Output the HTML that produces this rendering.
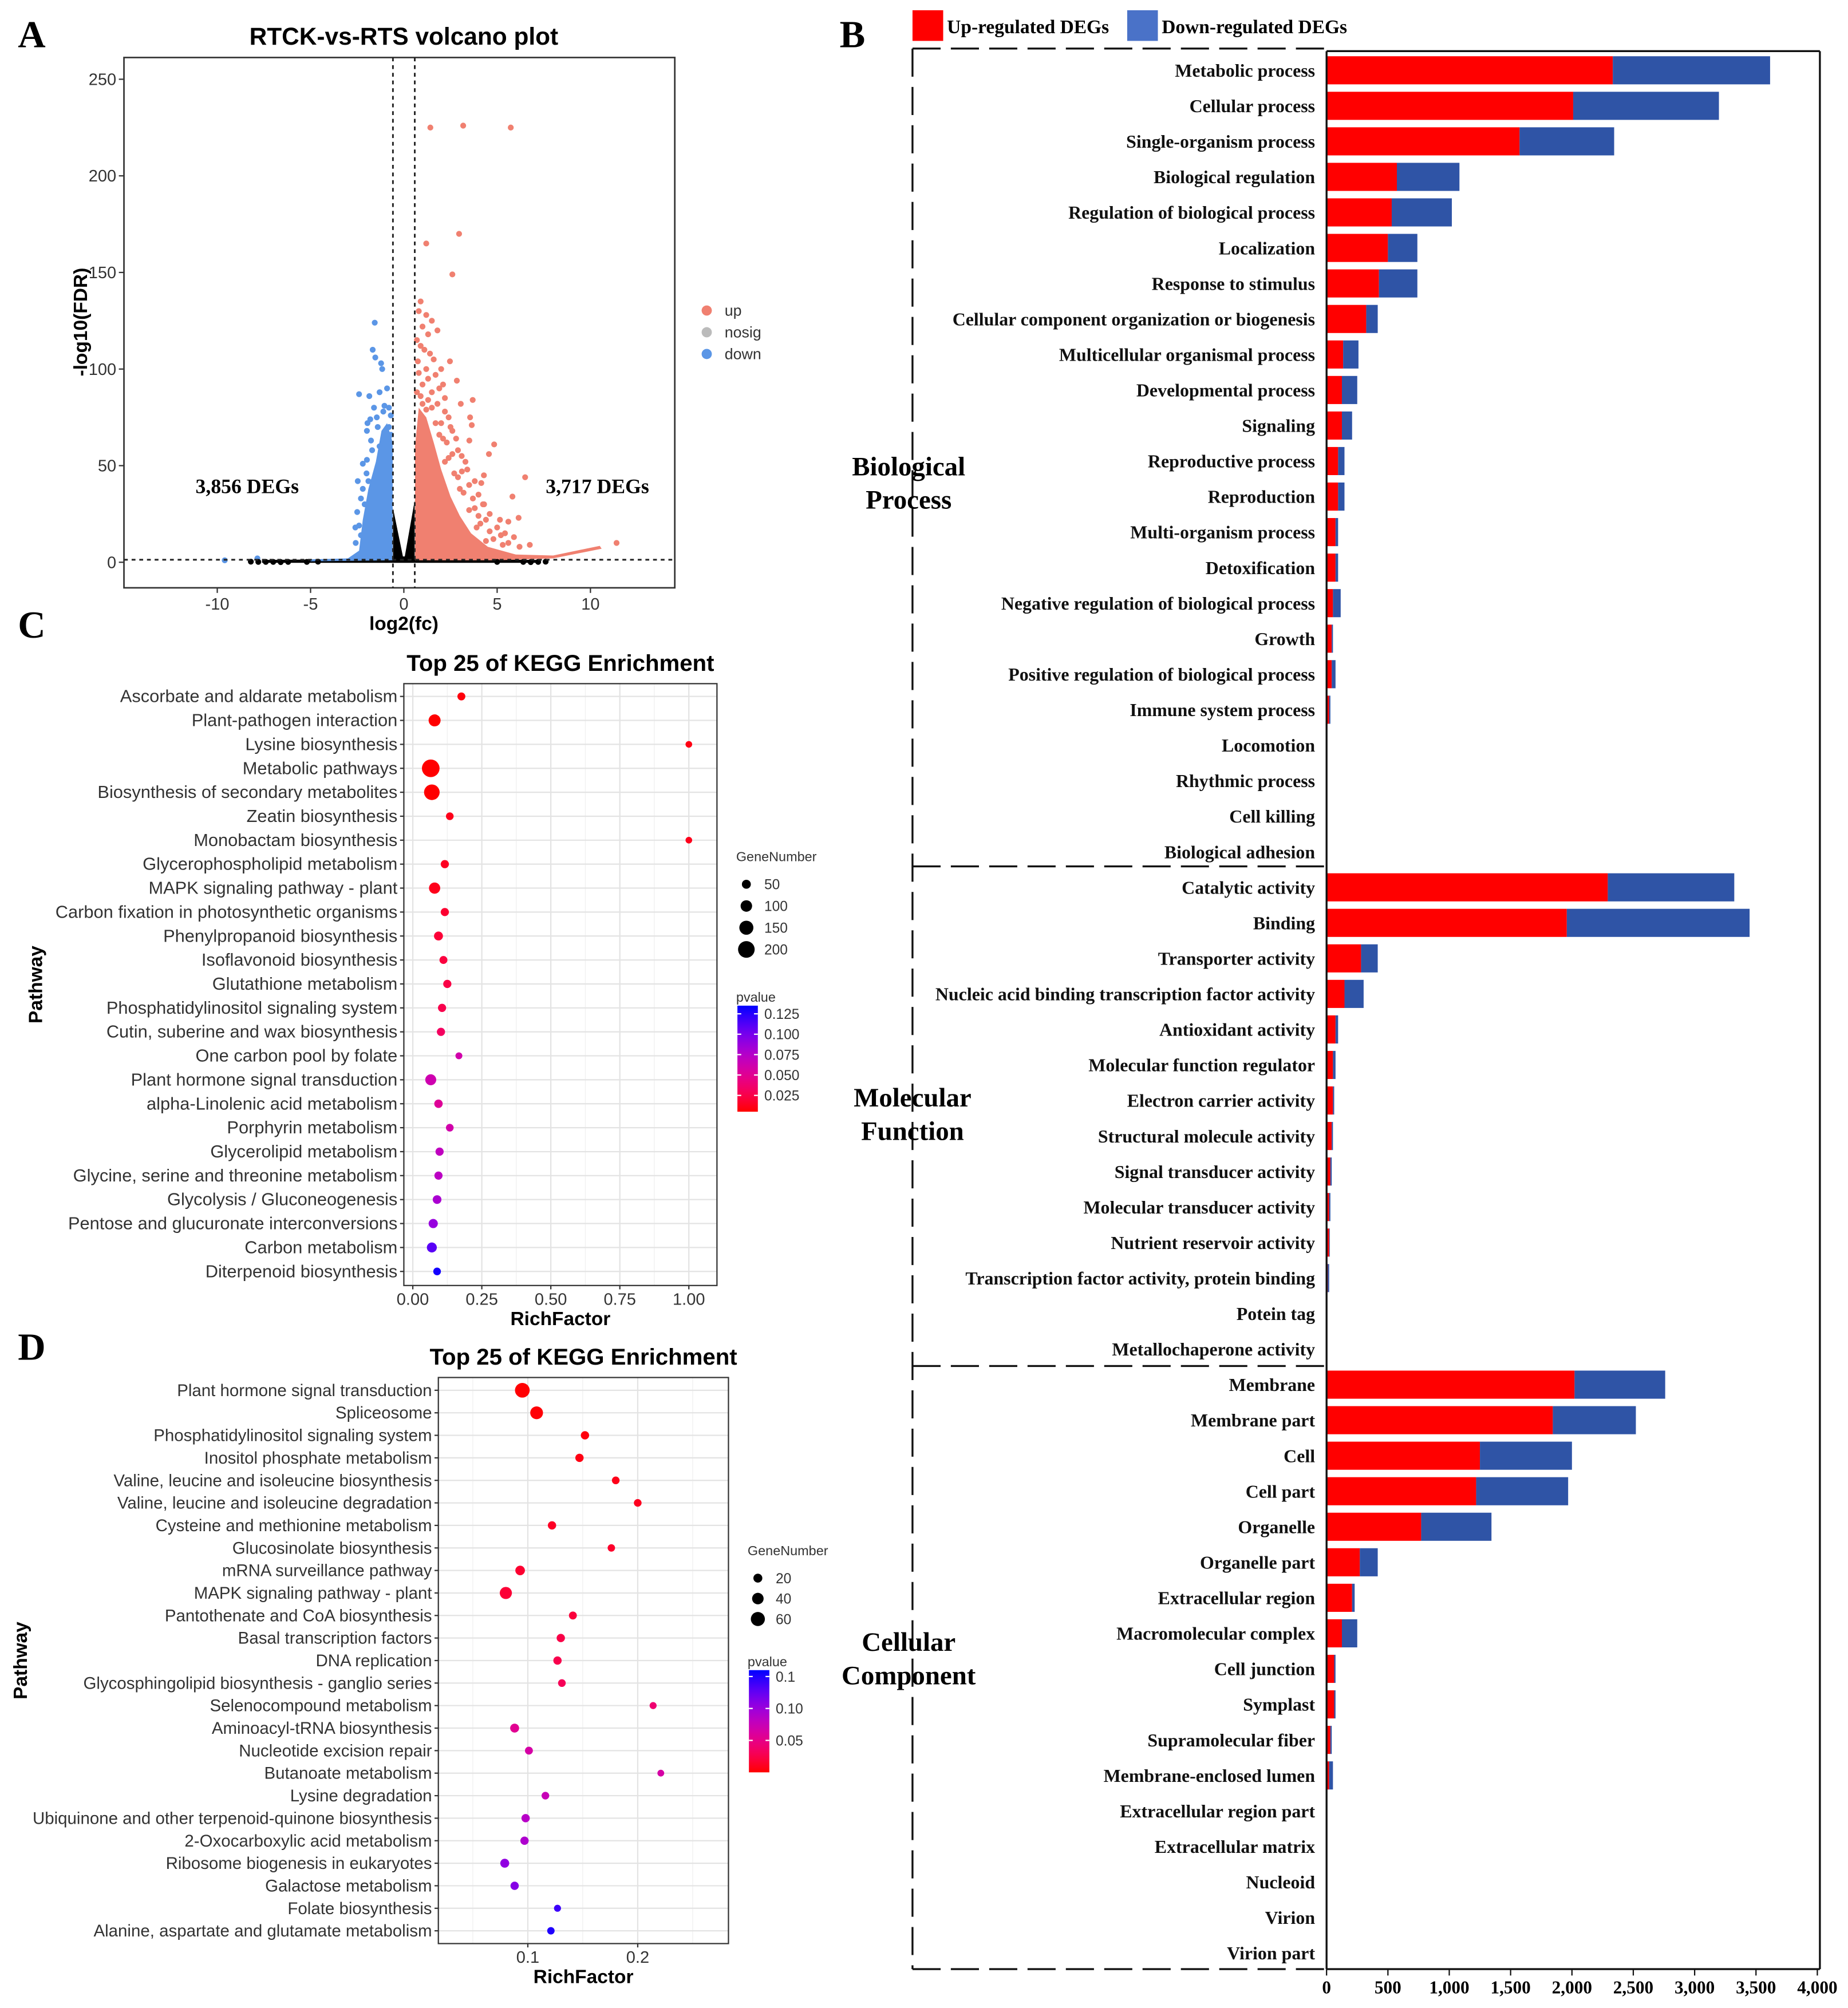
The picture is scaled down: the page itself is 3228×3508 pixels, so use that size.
<!DOCTYPE html>
<html><head><meta charset="utf-8"><style>
html,body{margin:0;padding:0;background:#fff;}
svg{display:block;}
</style></head><body>
<svg id="fig" xmlns="http://www.w3.org/2000/svg" width="3228" height="3508" viewBox="0 0 1446 1571.4">
<rect x="0" y="0" width="1446" height="1571.4" fill="#fff"/>
<g id="gA"></g>
<g id="gB"></g>
<g id="gC"></g>
<g id="gD"></g>
</svg>
<script>
// ---------- Panel A data ----------
const volXTicks = [-10,-5,0,5,10];
const volYTicks = [0,50,100,150,200,250];
const upDense = [[0.6,1],[0.6,60],[0.8,80],[1.2,75],[1.6,62],[2.0,48],[2.5,34],[3.0,24],[3.6,15],[4.5,8],[6,4],[8,3.5],[10.5,8.5],[10.6,7],[8,2],[5,1]];
const downDense = [[-0.6,1],[-0.6,62],[-0.9,72],[-1.2,68],[-1.5,52],[-1.9,38],[-2.2,22],[-2.4,6],[-3,2],[-5,1.5],[-5,0.5]];
const nosigSpike = [[-0.58,0],[-0.58,28],[-0.05,3],[0.05,3],[0.58,32],[0.58,0]];
const nosigBand = [[-7.6,-0.3],[-7.6,1.2],[0,1.8],[7.3,1.2],[7.3,-0.3]];
const upPoints = [[1.42,225],[3.18,226],[5.73,225],[2.96,170],[1.2,165],[2.6,149],[2.47,104],[2.84,94],[3.69,84],[3.05,82],[3.55,75],[3.64,71],[3.51,63],[4.84,61],[4.56,56],[3.11,47],[6.5,44],[4.29,45],[4.15,41],[5.82,34],[4.24,30],[6.15,23],[5.15,22],[5.6,21],[5.42,15],[6.75,9],[11.4,10],
[0.9,135],[1.2,128],[1.5,125],[1.8,120],[0.7,115],[1.1,110],[1.6,105],[2.0,100],[0.8,98],[1.3,95],[1.9,90],[2.2,85],[0.7,88],[1.0,82],[1.5,80],[2.4,75],[1.7,72],[2.6,68],[2.1,64],[2.9,58],[2.4,54],[3.3,52],[2.7,46],[3.5,40],[3.0,38],[4.0,35],[3.8,28],[4.6,25],[4.1,20],[5.0,18],[4.8,12],[5.9,13],[5.3,9],
[0.8,130],[1.0,122],[1.3,118],[0.9,112],[1.4,108],[0.75,104],[1.2,100],[1.7,97],[1.0,92],[1.5,88],[2.1,92],[0.9,86],[1.3,84],[1.8,82],[2.2,78],[1.2,79],[2.0,72],[2.5,70],[1.9,66],[2.3,62],[2.8,64],[2.6,56],[3.1,55],[2.2,52],[3.4,48],[2.9,44],[3.8,42],[3.2,36],[3.7,33],[4.3,30],[3.5,27],[4.0,24],[4.4,22],[3.9,18],[4.6,16],[5.2,14],[4.4,11],[5.6,10],[6.2,8]];
const downPoints = [[-1.56,124],[-1.67,110],[-1.53,106],[-1.22,103],[-1.16,100],[-2.4,87],[-1.85,86],[-1.04,81],[-1.45,75],[-1.95,72],[-1.98,68],[-1.76,63],[-1.98,53],[-2.2,51],[-2.47,42],[-2.3,33],[-2.4,19],[-2.58,10],[-9.6,1],[-7.85,2],[-0.8,70],[-1.3,60],[-0.7,66],
[-0.8,80],[-1.1,78],[-0.9,90],[-1.3,88],[-1.6,80],[-1.8,74],[-0.7,76],[-1.4,70],[-1.7,58],[-2.0,46],[-1.9,42],[-2.2,38],[-2.1,30],[-2.5,26],[-2.3,14],[-2.6,18]];
const nosigPoints = [[-8.2,0.3],[-7.8,0.2],[-7.4,0.2],[-7.0,0.2],[-6.6,0.1],[-6.2,0.2],[-5.2,0.2],[-4.6,0.3],[5.0,0.2],[6.4,0.2],[6.8,0.1],[7.2,0.2],[7.6,0.3]];

// ---------- Panel B data ----------
const goTerms = ["Metabolic process","Cellular process","Single-organism process","Biological regulation","Regulation of biological process","Localization","Response to stimulus","Cellular component organization or biogenesis","Multicellular organismal process","Developmental process","Signaling","Reproductive process","Reproduction","Multi-organism process","Detoxification","Negative regulation of biological process","Growth","Positive regulation of biological process","Immune system process","Locomotion","Rhythmic process","Cell killing","Biological adhesion",
"Catalytic activity","Binding","Transporter activity","Nucleic acid binding transcription factor activity","Antioxidant activity","Molecular function regulator","Electron carrier activity","Structural molecule activity","Signal transducer activity","Molecular transducer activity","Nutrient reservoir activity","Transcription factor activity, protein binding","Potein tag","Metallochaperone activity",
"Membrane","Membrane part","Cell","Cell part","Organelle","Organelle part","Extracellular region","Macromolecular complex","Cell junction","Symplast","Supramolecular fiber","Membrane-enclosed lumen","Extracellular region part","Extracellular matrix","Nucleoid","Virion","Virion part"];
const goUp = [2333,2010,1573,573,531,500,427,323,135,125,125,94,94,73,73,52,42,42,21,2,1,1,1,
2292,1958,281,146,73,52,52,42,31,21,21,10,1,1,
2021,1844,1250,1219,771,271,208,125,62,62,31,21,2,2,1,1,1];
const goDown = [1282,1188,771,510,490,240,313,94,125,125,83,52,52,21,21,63,10,31,10,0,0,0,0,
1031,1490,136,156,21,21,10,10,11,10,5,11,0,0,
739,677,750,750,573,146,21,125,11,11,11,31,0,0,0,0,0];
const goTicks = [0,500,1000,1500,2000,2500,3000,3500,4000];
const goTickLabels = ["0","500","1,000","1,500","2,000","2,500","3,000","3,500","4,000"];

// ---------- Panel C data ----------
const cPath = ["Ascorbate and aldarate metabolism","Plant-pathogen interaction","Lysine biosynthesis","Metabolic pathways","Biosynthesis of secondary metabolites","Zeatin biosynthesis","Monobactam biosynthesis","Glycerophospholipid metabolism","MAPK signaling pathway - plant","Carbon fixation in photosynthetic organisms","Phenylpropanoid biosynthesis","Isoflavonoid biosynthesis","Glutathione metabolism","Phosphatidylinositol signaling system","Cutin, suberine and wax biosynthesis","One carbon pool by folate","Plant hormone signal transduction","alpha-Linolenic acid metabolism","Porphyrin metabolism","Glycerolipid metabolism","Glycine, serine and threonine metabolism","Glycolysis / Gluconeogenesis","Pentose and glucuronate interconversions","Carbon metabolism","Diterpenoid biosynthesis"];
const cRich = [0.176,0.079,1.0,0.065,0.069,0.134,1.0,0.116,0.079,0.116,0.093,0.111,0.125,0.106,0.102,0.167,0.065,0.093,0.134,0.097,0.093,0.088,0.074,0.069,0.088];
const cGenes = [30,110,5,220,180,25,5,35,95,35,50,30,35,35,35,10,90,40,25,35,35,45,55,70,25];
const cP = [0.008,0.004,0.01,0.002,0.003,0.012,0.012,0.014,0.012,0.018,0.02,0.022,0.024,0.026,0.032,0.06,0.062,0.052,0.06,0.07,0.072,0.08,0.088,0.11,0.13];
const cXTicks = [0,0.25,0.5,0.75,1.0];
const cXLabels = ["0.00","0.25","0.50","0.75","1.00"];
const cSizeLegend = [50,100,150,200];
const cPLegend = [0.125,0.100,0.075,0.050,0.025];

// ---------- Panel D data ----------
const dPath = ["Plant hormone signal transduction","Spliceosome","Phosphatidylinositol signaling system","Inositol phosphate metabolism","Valine, leucine and isoleucine biosynthesis","Valine, leucine and isoleucine degradation","Cysteine and methionine metabolism","Glucosinolate biosynthesis","mRNA surveillance pathway","MAPK signaling pathway - plant","Pantothenate and CoA biosynthesis","Basal transcription factors","DNA replication","Glycosphingolipid biosynthesis - ganglio series","Selenocompound metabolism","Aminoacyl-tRNA biosynthesis","Nucleotide excision repair","Butanoate metabolism","Lysine degradation","Ubiquinone and other terpenoid-quinone biosynthesis","2-Oxocarboxylic acid metabolism","Ribosome biogenesis in eukaryotes","Galactose metabolism","Folate biosynthesis","Alanine, aspartate and glutamate metabolism"];
const dRich = [0.095,0.108,0.152,0.147,0.180,0.200,0.122,0.176,0.093,0.080,0.141,0.130,0.127,0.131,0.214,0.088,0.101,0.221,0.116,0.098,0.097,0.079,0.088,0.127,0.121];
const dGenes = [65,50,15,15,10,10,15,8,25,45,12,15,15,10,5,20,12,3,10,15,15,20,15,5,8];
const dP = [0.001,0.002,0.004,0.006,0.008,0.01,0.012,0.014,0.016,0.018,0.02,0.024,0.026,0.03,0.04,0.055,0.065,0.065,0.075,0.085,0.09,0.105,0.11,0.14,0.15];
const dXTicks = [0.1,0.2];
const dXLabels = ["0.1","0.2"];
const dSizeLegend = [20,40,60];
const dPLegend = [0.15,0.10,0.05];
const dPLegendLabels = ["0.1","0.10","0.05"];

// ---------- helpers ----------
const NS = "http://www.w3.org/2000/svg";
function mk(parent, tag, attrs, text) {
  const el = document.createElementNS(NS, tag);
  for (const k in attrs) el.setAttribute(k, attrs[k]);
  if (text !== undefined) el.textContent = text;
  parent.appendChild(el);
  return el;
}
const SANS = '"Liberation Sans", Arial, sans-serif';
const SERIF = '"Liberation Serif", "Times New Roman", serif';
function pcol(p, pmin, pmax) {
  let t = (p - pmin) / (pmax - pmin); t = Math.max(0, Math.min(1, t));
  const r = Math.round(255 * (1 - t * t));
  const b = Math.round(255 * (1 - (1 - t) * (1 - t)));
  return `rgb(${r},0,${b})`;
}

// ---------- Panel A ----------
(function(){
  const g = document.getElementById('gA');
  const xs = v => 316 + v * 14.6, ys = v => 440 - v * 1.512;
  let t = mk(g,'text',{x:14,y:37,'font-family':SERIF,'font-weight':'bold','font-size':30});
  t.textContent='A';  
  t = mk(g,'text',{x:316,y:35,'text-anchor':'middle','font-family':SANS,'font-weight':'bold','font-size':19},'RTCK-vs-RTS volcano plot');
   
  const fr = mk(g,'rect',{x:97,y:45,width:431,height:415,fill:'#fff',stroke:'#333','stroke-width':1.2});
   
  const poly = (arr, fill, name) => {
    const p = mk(g,'polygon',{points: arr.map(d=>xs(d[0])+','+ys(d[1])).join(' '), fill: fill});
     
  };
  poly(nosigBand,'#000','nosig-band');
  poly(upDense,'#f08070','up-dense-cloud');
  poly(downDense,'#5b96e6','down-dense-cloud');
  poly(nosigSpike,'#000','nosig-spike');
  const pts = (arr, fill, name) => arr.forEach(d => {
    const c = mk(g,'circle',{cx:xs(d[0]),cy:ys(d[1]),r:2.3,fill:fill});
     
  });
  pts(upPoints,'#f08070','up-point');
  pts(downPoints,'#5b96e6','down-point');
  pts(nosigPoints,'#000','nosig-point');
  [[-0.585],[0.585]].forEach(v=>{
    const l = mk(g,'line',{x1:xs(v[0]),x2:xs(v[0]),y1:45,y2:460,stroke:'#222','stroke-width':1.3,'stroke-dasharray':'3,3'});
     
  });
  const hl = mk(g,'line',{x1:97,x2:528,y1:ys(1.3),y2:ys(1.3),stroke:'#222','stroke-width':1.3,'stroke-dasharray':'3,3'});
   
  volXTicks.forEach(v=>{
    mk(g,'line',{x1:xs(v),x2:xs(v),y1:460,y2:464,stroke:'#333'});
    const tt = mk(g,'text',{x:xs(v),y:477,'text-anchor':'middle','font-family':SANS,'font-size':13,fill:'#333'},String(v));
     
  });
  volYTicks.forEach(v=>{
    mk(g,'line',{x1:93,x2:97,y1:ys(v),y2:ys(v),stroke:'#333'});
    const tt = mk(g,'text',{x:91,y:ys(v)+4.5,'text-anchor':'end','font-family':SANS,'font-size':13,fill:'#333'},String(v));
     
  });
  t = mk(g,'text',{x:316,y:493,'text-anchor':'middle','font-family':SANS,'font-weight':'bold','font-size':15},'log2(fc)');
   
  t = mk(g,'text',{x:0,y:0,transform:'translate(68,252) rotate(-90)','text-anchor':'middle','font-family':SANS,'font-weight':'bold','font-size':15},'-log10(FDR)');
   
  t = mk(g,'text',{x:153,y:386,'font-family':SERIF,'font-weight':'bold','font-size':16},'3,856 DEGs');
   
  t = mk(g,'text',{x:427,y:386,'font-family':SERIF,'font-weight':'bold','font-size':16},'3,717 DEGs');
   
  [['up','#f08070',243],['nosig','#bbbbbb',260],['down','#5b96e6',277]].forEach(d=>{
    const c = mk(g,'circle',{cx:553,cy:d[2],r:4,fill:d[1]});
     
    const tt = mk(g,'text',{x:567,y:d[2]+4,'font-family':SANS,'font-size':12,fill:'#333'},d[0]);
     
  });
})();

// ---------- Panel B ----------
(function(){
  const g = document.getElementById('gB');
  const bx = v => 1038 + v * 0.096, ry = i => 55 + i * 27.8;
  let t = mk(g,'text',{x:657,y:37,'font-family':SERIF,'font-weight':'bold','font-size':30},'B');
   
  let r = mk(g,'rect',{x:714,y:8,width:24,height:24,fill:'#ff0000'});
   
  t = mk(g,'text',{x:741,y:26,'font-family':SERIF,'font-weight':'bold','font-size':15},'Up-regulated DEGs');
   
  r = mk(g,'rect',{x:882,y:8,width:24,height:24,fill:'#4a72c8'});
   
  t = mk(g,'text',{x:909,y:26,'font-family':SERIF,'font-weight':'bold','font-size':15},'Down-regulated DEGs');
   
  goTerms.forEach((name,i)=>{
    const y = ry(i);
    const a = mk(g,'rect',{x:1038,y:y-11,width:Math.max(0,goUp[i]*0.096),height:22,fill:'#ff0000'});
     
    const b = mk(g,'rect',{x:bx(goUp[i]),y:y-11,width:Math.max(0,goDown[i]*0.096),height:22,fill:'#2f54a6'});
     
    const tt = mk(g,'text',{x:1029,y:y+5,'text-anchor':'end','font-family':SERIF,'font-weight':'bold','font-size':14.3,fill:'#111'},name);
     
  });
  const ln = (x1,y1,x2,y2,dash,name) => { const l = mk(g,'line',{x1,y1,x2,y2,stroke:'#111','stroke-width':1.5}); if(dash) l.setAttribute('stroke-dasharray','22,8');   };
  ln(714,38,1038,38,true,'frame-top-dashed'); ln(1038,40,1424,40,false,'frame-top');
  ln(1424,40,1424,1541,false,'frame-right'); ln(1038,40,1038,1541,false,'y-axis-line');
  ln(714,38,714,1541,true,'frame-left-dashed'); ln(714,1541,1038,1541,true,'frame-bottom-dashed');
  ln(1038,1541,1424,1541,false,'x-axis-line');
  ln(714,678,1038,678,true,'separator-bp-mf'); ln(714,1069,1038,1069,true,'separator-mf-cc');
  goTicks.forEach((v,i)=>{
    mk(g,'line',{x1:bx(v),x2:bx(v),y1:1541,y2:1546,stroke:'#111'});
    const tt = mk(g,'text',{x:bx(v),y:1560,'text-anchor':'middle','font-family':SERIF,'font-weight':'bold','font-size':14},goTickLabels[i]);
     
  });
  [['Biological','Process',711,372],['Molecular','Function',714,866],['Cellular','Component',711,1292]].forEach(d=>{
    const tt = mk(g,'text',{x:d[2],y:d[3],'text-anchor':'middle','font-family':SERIF,'font-weight':'bold','font-size':21});
     
    mk(tt,'tspan',{x:d[2],dy:0},d[0]); mk(tt,'tspan',{x:d[2],dy:26},d[1]);
  });
})();

// ---------- KEGG dot plot builder ----------
function kegg(g, o) {
  const xs = v => o.x0px + v * o.xk;
  const ry = i => o.rowY0 + i * o.rowStep;
  let t = mk(g,'text',{x:14,y:o.letterY,'font-family':SERIF,'font-weight':'bold','font-size':30},o.letter);
   
  t = mk(g,'text',{x:(o.L+o.R)/2,y:o.T-10,'text-anchor':'middle','font-family':SANS,'font-weight':'bold','font-size':18},'Top 25 of KEGG Enrichment');
   
  const fr = mk(g,'rect',{x:o.L,y:o.T,width:o.R-o.L,height:o.B-o.T,fill:'#fff'});
   
  o.minor.forEach(v=> mk(g,'line',{x1:xs(v),x2:xs(v),y1:o.T,y2:o.B,stroke:'#f0f0f0','stroke-width':0.6}));
  o.ticks.forEach(v=> mk(g,'line',{x1:xs(v),x2:xs(v),y1:o.T,y2:o.B,stroke:'#e3e3e3','stroke-width':1}));
  o.paths.forEach((n,i)=>{
    mk(g,'line',{x1:o.L,x2:o.R,y1:ry(i),y2:ry(i),stroke:'#e3e3e3','stroke-width':1});
    mk(g,'line',{x1:o.L-3,x2:o.L,y1:ry(i),y2:ry(i),stroke:'#333'});
    const tt = mk(g,'text',{x:o.L-5,y:ry(i)+4.5,'text-anchor':'end','font-family':SANS,'font-size':o.fs,fill:'#333'},n);
     
  });
  mk(g,'rect',{x:o.L,y:o.T,width:o.R-o.L,height:o.B-o.T,fill:'none',stroke:'#333','stroke-width':1});
  o.paths.forEach((n,i)=>{
    const c = mk(g,'circle',{cx:xs(o.rich[i]),cy:ry(i),r:o.rad(o.genes[i]),fill:pcol(o.p[i],o.pmin,o.pmax)});
     
  });
  o.ticks.forEach((v,i)=>{
    mk(g,'line',{x1:xs(v),x2:xs(v),y1:o.B,y2:o.B+3,stroke:'#333'});
    const tt = mk(g,'text',{x:xs(v),y:o.B+15,'text-anchor':'middle','font-family':SANS,'font-size':13,fill:'#333'},o.tickLabels[i]);
     
  });
  t = mk(g,'text',{x:(o.L+o.R)/2,y:o.B+31,'text-anchor':'middle','font-family':SANS,'font-weight':'bold','font-size':15},'RichFactor');
   
  t = mk(g,'text',{x:0,y:0,transform:`translate(${o.ylabX},${(o.T+o.B)/2}) rotate(-90)`,'text-anchor':'middle','font-family':SANS,'font-weight':'bold','font-size':15},'Pathway');
   
  t = mk(g,'text',{x:o.legX,y:o.sizeY-12,'font-family':SANS,'font-size':10.5,fill:'#333'},'GeneNumber');
   
  o.sizeLeg.forEach((v,i)=>{
    const y = o.sizeY + 6 + i*o.sizeStep;
    const c = mk(g,'circle',{cx:o.legX+8,cy:y,r:o.rad(v),fill:'#000'});
     
    const tt = mk(g,'text',{x:o.legX+22,y:y+4,'font-family':SANS,'font-size':11,fill:'#333'},String(v));
     
  });
  const gid = 'grad'+o.letter;
  const defs = mk(g,'defs',{});
  const lg = mk(defs,'linearGradient',{id:gid,x1:0,y1:1,x2:0,y2:0});
  for (let k=0;k<=10;k++){ mk(lg,'stop',{offset:k/10,'stop-color':pcol(o.pmin+(o.pmax-o.pmin)*k/10,o.pmin,o.pmax)}); }
  t = mk(g,'text',{x:o.legX,y:o.barT-3,'font-family':SANS,'font-size':10.5,fill:'#333'},'pvalue');
   
  const cb = mk(g,'rect',{x:o.legX+1,y:o.barT,width:16,height:o.barB-o.barT,fill:`url(#${gid})`});
   
  const py = p => o.barB - (p - o.pmin)/(o.pmax - o.pmin)*(o.barB-o.barT);
  o.pLeg.forEach((v,i)=>{
    const y = py(v);
    mk(g,'line',{x1:o.legX+1,x2:o.legX+4,y1:y,y2:y,stroke:'#fff'}); mk(g,'line',{x1:o.legX+14,x2:o.legX+17,y1:y,y2:y,stroke:'#fff'});
    const tt = mk(g,'text',{x:o.legX+22,y:y+4,'font-family':SANS,'font-size':11,fill:'#333'},o.pLegLabels[i]);
     
  });
}
kegg(document.getElementById('gC'), {letter:'C',letterY:499,L:316,R:561,T:535,B:1006,x0px:323,xk:216,rowY0:545,rowStep:18.75,
  paths:cPath,rich:cRich,genes:cGenes,p:cP,pmin:0.005,pmax:0.135,ticks:cXTicks,tickLabels:cXLabels,minor:[0.125,0.375,0.625,0.875],
  fs:13.8,ylabX:33,rad:v=>2.5+v*0.02,legX:576,sizeY:686,sizeStep:17,sizeLeg:cSizeLegend,barT:787,barB:870,pLeg:cPLegend,pLegLabels:cPLegend.map(v=>v.toFixed(3))});
kegg(document.getElementById('gD'), {letter:'D',letterY:1064,L:343,R:570,T:1078,B:1521,x0px:327,xk:860,rowY0:1088,rowStep:17.625,
  paths:dPath,rich:dRich,genes:dGenes,p:dP,pmin:0.0,pmax:0.16,ticks:dXTicks,tickLabels:dXLabels,minor:[0.05,0.15,0.25],
  fs:13.2,ylabX:21,rad:v=>2.5+v*0.05,legX:585,sizeY:1229,sizeStep:16,sizeLeg:dSizeLegend,barT:1307,barB:1387,pLeg:dPLegend,pLegLabels:dPLegendLabels});
</script>
</body></html>
